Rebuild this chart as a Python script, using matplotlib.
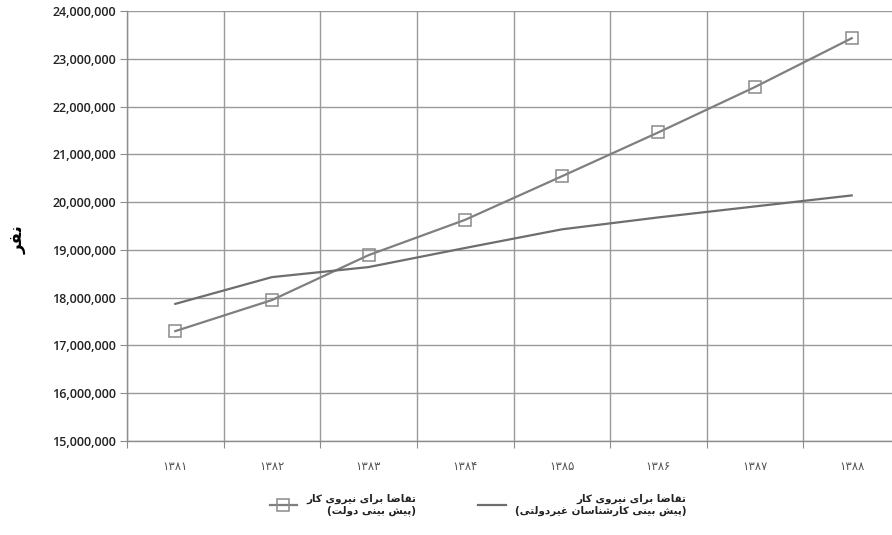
import matplotlib
matplotlib.use('Agg')
import matplotlib.pyplot as plt
from matplotlib.ticker import FuncFormatter, FixedLocator

# data
years = ['۱۳۸۱', '۱۳۸۲', '۱۳۸۳', '۱۳۸۴', '۱۳۸۵', '۱۳۸۶', '۱۳۸۷', '۱۳۸۸']
gov = [17300000, 17950000, 18890000, 19630000, 20540000, 21460000, 22410000, 23430000]
experts = [17870000, 18430000, 18640000, 19040000, 19430000, 19680000, 19910000, 20140000]
y_ticks = [15000000, 16000000, 17000000, 18000000, 19000000, 20000000,
           21000000, 22000000, 23000000, 24000000]

gov_label = 'تقاضا برای نیروی کار\n(پیش بینی دولت)'
experts_label = 'تقاضا برای نیروی کار\n(پیش بینی کارشناسان غیردولتی)'
y_label = 'نفر'

# matplotlib does no arabic shaping, so pick the contextual forms by hand
# (isolated, final[, initial, medial]) - two forms means joins on the right only
FORMS = {
	'ا': ('\uFE8D', '\uFE8E'),
	'د': ('\uFEA9', '\uFEAA'),
	'ر': ('\uFEAD', '\uFEAE'),
	'و': ('\uFEED', '\uFEEE'),
	'ب': ('\uFE8F', '\uFE90', '\uFE91', '\uFE92'),
	'ت': ('\uFE95', '\uFE96', '\uFE97', '\uFE98'),
	'س': ('\uFEB1', '\uFEB2', '\uFEB3', '\uFEB4'),
	'ش': ('\uFEB5', '\uFEB6', '\uFEB7', '\uFEB8'),
	'ض': ('\uFEBD', '\uFEBE', '\uFEBF', '\uFEC0'),
	'غ': ('\uFECD', '\uFECE', '\uFECF', '\uFED0'),
	'ف': ('\uFED1', '\uFED2', '\uFED3', '\uFED4'),
	'ق': ('\uFED5', '\uFED6', '\uFED7', '\uFED8'),
	'ل': ('\uFEDD', '\uFEDE', '\uFEDF', '\uFEE0'),
	'ن': ('\uFEE5', '\uFEE6', '\uFEE7', '\uFEE8'),
	'پ': ('\uFB56', '\uFB57', '\uFB58', '\uFB59'),
	'ک': ('\uFB8E', '\uFB8F', '\uFB90', '\uFB91'),
	'ی': ('\uFBFC', '\uFBFD', '\uFBFE', '\uFBFF'),
}
MIRROR = {'(': ')', ')': '('}


def shape_line(line):
	out = []
	for i, ch in enumerate(line):
		f = FORMS.get(ch)
		if f is None:
			out.append(ch)
			continue
		prev = line[i - 1] if i > 0 else ''
		nxt = line[i + 1] if i + 1 < len(line) else ''
		join_prev = prev in FORMS and len(FORMS[prev]) == 4
		join_next = len(f) == 4 and nxt in FORMS
		if join_prev and join_next:
			out.append(f[3])
		elif join_prev:
			out.append(f[1])
		elif join_next:
			out.append(f[2])
		else:
			out.append(f[0])
	return ''.join(MIRROR.get(c, c) for c in reversed(out))


def rtl(text):
	return '\n'.join(shape_line(l) for l in text.split('\n'))


fig = plt.figure(figsize=(8.92, 5.35), dpi=100)
fig.set_facecolor('white')
ax = fig.add_axes([127 / 892, 1 - 441 / 535, 773 / 892, 430 / 535])

x = list(range(len(years)))
ax.plot(x, gov, color='#7f7f7f', lw=1.6, marker='s', markersize=9,
	markerfacecolor='none', markeredgecolor='#8a8a8a', markeredgewidth=1.1,
	label=rtl(gov_label), zorder=3)
ax.plot(x, experts, color='#6e6e6e', lw=1.6, label=rtl(experts_label), zorder=3)

ax.set_xlim(-0.5, len(years) - 0.5)
ax.set_ylim(15000000, 24000000)

# y axis
ax.yaxis.set_major_locator(FixedLocator(y_ticks))
ax.yaxis.set_major_formatter(FuncFormatter(lambda v, p: '{:,.0f}'.format(v)))
ax.tick_params(axis='y', direction='out', length=5, width=0.8, color='#8c8c8c',
	pad=3, labelsize=9, labelcolor='#222222')
for t in ax.get_yticklabels():
	t.set_fontfamily('Open Sans')
	t.set_fontweight('semibold')

# x axis: labels at category centres, ticks and grid on the boundaries
ax.set_xticks(x)
ax.set_xticklabels(years, fontsize=8.5, color='#555555', fontfamily='DejaVu Sans')
ax.set_xticks([i - 0.5 for i in range(len(years) + 1)], minor=True)
ax.tick_params(axis='x', which='major', length=0, pad=14)
ax.tick_params(axis='x', which='minor', direction='out', length=5, width=0.8,
	color='#8c8c8c')

ax.grid(True, axis='y', which='major', color='#9a9a9a', lw=1.0)
ax.grid(True, axis='x', which='minor', color='#9a9a9a', lw=1.0)
ax.set_axisbelow(True)

for side in ['top', 'right']:
	ax.spines[side].set_visible(False)
for side in ['left', 'bottom']:
	ax.spines[side].set_color('#8c8c8c')
	ax.spines[side].set_linewidth(1.0)

fig.text(18 / 892, 1 - 240 / 535, rtl(y_label), rotation=90, ha='center', va='center',
	fontsize=12, fontweight='bold', color='black', fontfamily='DejaVu Sans')

leg = fig.legend(loc='center', bbox_to_anchor=(478 / 892, 1 - 505 / 535), ncol=2,
	frameon=False, handlelength=2.6, handletextpad=0.9, columnspacing=6,
	prop={'family': 'DejaVu Sans', 'weight': 'bold', 'size': 7.5})
for t in leg.get_texts():
	t.set_multialignment('right')
	t.set_color('#222222')

fig.savefig('out.png', dpi=100, facecolor='white')
